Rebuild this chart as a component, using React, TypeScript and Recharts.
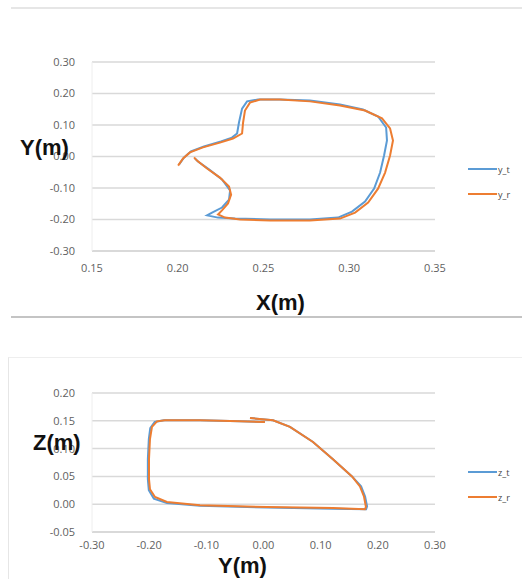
import { CartesianGrid, Scatter, ScatterChart, XAxis, YAxis } from 'recharts';

// X-Y plane trajectory, [x, y] in metres
const yTarget: [number, number][] = [
  [0.2008, -0.025], [0.2037, -0.003], [0.2077, 0.016], [0.2153, 0.032], [0.2252, 0.048],
  [0.2316, 0.06], [0.2346, 0.073], [0.2357, 0.108], [0.2375, 0.152], [0.2404, 0.175],
  [0.2468, 0.181], [0.2596, 0.181], [0.2771, 0.178], [0.2946, 0.165], [0.308, 0.149],
  [0.3168, 0.127], [0.3215, 0.092], [0.322, 0.051], [0.3203, 0.003], [0.318, -0.051],
  [0.3145, -0.102], [0.3092, -0.143], [0.3016, -0.175], [0.2934, -0.194], [0.2771, -0.2],
  [0.2538, -0.2], [0.2334, -0.197], [0.2235, -0.194], [0.2171, -0.187], [0.22, -0.178],
  [0.2258, -0.162], [0.2299, -0.137], [0.2305, -0.108], [0.2258, -0.073], [0.2182, -0.041],
  [0.2118, -0.016], [0.21, -0.006]
];
const yReal: [number, number][] = [
  [0.2002, -0.029], [0.2031, -0.006], [0.2071, 0.013], [0.2147, 0.029], [0.2246, 0.044],
  [0.2322, 0.057], [0.2375, 0.073], [0.2381, 0.108], [0.2392, 0.146], [0.2421, 0.171],
  [0.248, 0.181], [0.2596, 0.181], [0.2771, 0.175], [0.2946, 0.162], [0.3092, 0.146],
  [0.3191, 0.121], [0.3238, 0.089], [0.3255, 0.051], [0.3238, 0.003], [0.3209, -0.051],
  [0.3168, -0.102], [0.311, -0.146], [0.3034, -0.178], [0.2946, -0.197], [0.2771, -0.203],
  [0.2538, -0.203], [0.2363, -0.2], [0.2276, -0.194], [0.2235, -0.184], [0.2258, -0.171],
  [0.2293, -0.149], [0.2311, -0.121], [0.2299, -0.095], [0.2246, -0.067], [0.2171, -0.038],
  [0.2112, -0.013], [0.2095, -0.003]
];

// Y-Z plane trajectory, [y, z] in metres
const zTarget: [number, number][] = [
  [-0.0236, 0.155], [0.0166, 0.151], [0.0463, 0.139], [0.0866, 0.112], [0.1215, 0.081],
  [0.1548, 0.05], [0.1707, 0.032], [0.1777, 0.014], [0.1812, -0.004], [0.1795, -0.009],
  [0.1215, -0.008], [0.006, -0.006], [-0.1111, -0.003], [-0.1689, 0.002], [-0.1918, 0.01],
  [-0.2006, 0.025], [-0.2023, 0.045], [-0.2023, 0.081], [-0.2006, 0.117], [-0.1981, 0.137],
  [-0.1903, 0.148], [-0.1744, 0.151], [-0.111, 0.151], [-0.0412, 0.149], [0.0025, 0.148]
];
const zReal: [number, number][] = [
  [-0.0236, 0.155], [0.0166, 0.151], [0.0463, 0.139], [0.0866, 0.112], [0.1215, 0.081],
  [0.1548, 0.05], [0.1687, 0.032], [0.1757, 0.014], [0.1792, -0.005], [0.1775, -0.009],
  [0.1215, -0.007], [0.006, -0.005], [-0.1111, -0.002], [-0.1689, 0.004], [-0.1898, 0.013],
  [-0.1986, 0.027], [-0.2003, 0.045], [-0.2003, 0.081], [-0.1986, 0.117], [-0.1951, 0.139],
  [-0.1863, 0.149], [-0.1724, 0.151], [-0.111, 0.151], [-0.0412, 0.149], [0.0025, 0.148]
];

const xyTicksX = [0.15, 0.2, 0.25, 0.3, 0.35];
const xyTicksY = [-0.3, -0.2, -0.1, 0, 0.1, 0.2, 0.3];
const yzTicksX = [-0.3, -0.2, -0.1, 0, 0.1, 0.2, 0.3];
const yzTicksY = [-0.05, 0, 0.05, 0.1, 0.15, 0.2];

const BLUE = '#5B9BD5';
const ORANGE = '#ED7D31';

const toPoints = (arr: [number, number][]) => arr.map(([x, y]) => ({ x, y }));
const fmt = (v: number) => (Math.abs(v) < 1e-9 ? '0.00' : v.toFixed(2));
const tickStyle = { fontSize: 11, fill: '#5f5f5f', fontFamily: 'Open Sans, sans-serif' };
const titleStyle: React.CSSProperties = {
  position: 'absolute',
  fontFamily: 'Liberation Sans, Arial, sans-serif',
  fontWeight: 'bold',
  fontSize: 22,
  color: '#111',
  lineHeight: '22px',
  whiteSpace: 'nowrap'
};

function LegendBox({ top, items }: { top: number; items: { name: string; color: string }[] }) {
  return (
    <div style={{ position: 'absolute', left: 468, top, fontFamily: 'Open Sans, sans-serif' }}>
      {items.map((it, i) => (
        <div key={it.name} style={{ display: 'flex', alignItems: 'center', height: 12, marginTop: i ? 13 : 0 }}>
          <div style={{ width: 29, height: 2, background: it.color }} />
          <span style={{ fontSize: 9, color: '#444', marginLeft: 1 }}>{it.name}</span>
        </div>
      ))}
    </div>
  );
}

const noDot = () => <g />;

export default function App() {
  return (
    <div style={{ position: 'absolute', left: 0, top: 0, width: 522, height: 579, background: '#fff' }}>
      <div style={{ position: 'absolute', left: 11, top: 7, width: 511, height: 2, background: '#e6e6e6' }} />
      <div style={{ position: 'absolute', left: 11, top: 316, width: 511, height: 1.5, background: '#c4c4c4' }} />
      <div style={{ position: 'absolute', left: 8, top: 357, width: 514, height: 222, borderLeft: '1px solid #e6e6e6', borderTop: '1px solid #eeeeee' }} />

      <div style={{ position: 'absolute', left: 0, top: 0 }}>
        <ScatterChart width={522} height={300} margin={{ top: 62, right: 87, left: 0, bottom: 19 }}>
          <CartesianGrid vertical={false} stroke="#d9d9d9" strokeWidth={1.5} />
          <XAxis
            type="number"
            dataKey="x"
            domain={[0.15, 0.35]}
            ticks={xyTicksX}
            tickFormatter={fmt}
            axisLine={{ stroke: '#d0d0d0' }}
            tickLine={false}
            tick={tickStyle}
            tickMargin={7}
            height={30}
          />
          <YAxis
            type="number"
            dataKey="y"
            domain={[-0.3, 0.3]}
            ticks={xyTicksY}
            tickFormatter={fmt}
            axisLine={{ stroke: '#eeeeee' }}
            tickLine={false}
            tick={tickStyle}
            tickMargin={11}
            width={92}
          />
          <Scatter name="y_t" data={toPoints(yTarget)} line={{ stroke: BLUE, strokeWidth: 2 }} lineType="joint" shape={noDot} isAnimationActive={false} />
          <Scatter name="y_r" data={toPoints(yReal)} line={{ stroke: ORANGE, strokeWidth: 2 }} lineType="joint" shape={noDot} isAnimationActive={false} />
        </ScatterChart>
      </div>
      <div style={{ ...titleStyle, left: 20, top: 137 }}>Y(m)</div>
      <div style={{ ...titleStyle, left: 256, top: 292 }}>X(m)</div>
      <LegendBox top={163} items={[{ name: 'y_t', color: BLUE }, { name: 'y_r', color: ORANGE }]} />

      <div style={{ position: 'absolute', left: 0, top: 340 }}>
        <ScatterChart width={522} height={239} margin={{ top: 53, right: 87, left: 0, bottom: 17 }}>
          <CartesianGrid vertical={false} stroke="#d9d9d9" strokeWidth={1.5} />
          <XAxis
            type="number"
            dataKey="x"
            domain={[-0.3, 0.3]}
            ticks={yzTicksX}
            tickFormatter={fmt}
            axisLine={{ stroke: '#d0d0d0' }}
            tickLine={false}
            tick={tickStyle}
            tickMargin={3}
            height={30}
          />
          <YAxis
            type="number"
            dataKey="y"
            domain={[-0.05, 0.2]}
            ticks={yzTicksY}
            tickFormatter={fmt}
            axisLine={{ stroke: '#eeeeee' }}
            tickLine={false}
            tick={tickStyle}
            tickMargin={11}
            width={92}
          />
          <Scatter name="z_t" data={toPoints(zTarget)} line={{ stroke: BLUE, strokeWidth: 2 }} lineType="joint" shape={noDot} isAnimationActive={false} />
          <Scatter name="z_r" data={toPoints(zReal)} line={{ stroke: ORANGE, strokeWidth: 2 }} lineType="joint" shape={noDot} isAnimationActive={false} />
        </ScatterChart>
      </div>
      <div style={{ ...titleStyle, left: 33, top: 432 }}>Z(m)</div>
      <div style={{ ...titleStyle, left: 218, top: 555 }}>Y(m)</div>
      <LegendBox top={466} items={[{ name: 'z_t', color: BLUE }, { name: 'z_r', color: ORANGE }]} />
    </div>
  );
}
